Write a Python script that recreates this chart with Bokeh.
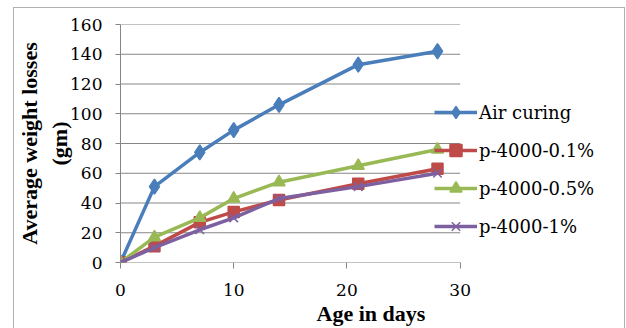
from bokeh.plotting import figure
from bokeh.models import Legend, LegendItem, Range1d, FixedTicker
from bokeh.embed import file_html
from bokeh.resources import INLINE

days = [0, 3, 7, 10, 14, 21, 28]
air_curing = [0, 51, 74, 89, 106, 133, 142]
p4000_01 = [0, 11, 27, 34, 42, 53, 63]
p4000_05 = [0, 17, 30, 43, 54, 65, 76]
p4000_1 = [0, 10, 22, 30, 43, 51, 60]
x_ticks = [0, 10, 20, 30]
y_ticks = [0, 20, 40, 60, 80, 100, 120, 140, 160]

SERIF = "DejaVu Serif"             # regular texts
SERIF_BOLD = "Liberation Serif"    # bold titles
GRID = "#868686"

# frame extends to the right so the legend (which overlaps the plot edge) is not clipped
X_END = 30 * (620 - 117) / (458 - 117)

p = figure(width=612, height=323, output_backend="svg", toolbar_location=None,
           x_range=Range1d(0, X_END), y_range=Range1d(0, 160),
           min_border_left=103, min_border_right=5, min_border_top=16, min_border_bottom=69)
p.styles = {"border": "1px solid #b0b0b0", "margin-left": "13px", "margin-top": "7px"}
p.outline_line_color = None
p.background_fill_color = "white"
p.border_fill_color = "white"

p.xgrid.grid_line_color = None
p.ygrid.grid_line_color = None
# horizontal gridlines only across the data span 0..30
p.segment(x0=[x_ticks[0]] * len(y_ticks), x1=[x_ticks[-1]] * len(y_ticks), y0=y_ticks, y1=y_ticks,
          line_color=GRID, line_width=1)

p.xaxis.ticker = FixedTicker(ticks=x_ticks)
p.yaxis.ticker = FixedTicker(ticks=y_ticks)
for ax in (p.xaxis[0], p.yaxis[0]):
    ax.major_label_text_font = SERIF
    ax.major_label_text_font_style = "normal"
    ax.major_label_text_font_size = "17px"
    ax.major_label_text_color = "black"
    ax.minor_tick_line_color = None
    ax.major_tick_line_color = GRID
    ax.major_tick_in = 0
    ax.axis_label_text_font = SERIF_BOLD
    ax.axis_label_text_font_style = "bold"
    ax.axis_label_text_font_size = "22px"
    ax.axis_label_text_color = "black"

p.xaxis.axis_line_color = None
p.xaxis.major_tick_out = 6
p.xaxis.major_label_standoff = 15
p.xaxis.axis_label = "Age in days"
p.xaxis.axis_label_standoff = 2

p.yaxis.axis_line_color = GRID
p.yaxis.major_tick_out = 5
p.yaxis.major_label_standoff = 13
p.yaxis.axis_label = "Average weight losses\n(gm)"
p.yaxis.axis_label_standoff = -5

series = [
    ("Air curing", air_curing, "#4a7ebb", "diamond", 15),
    ("p-4000-0.1%", p4000_01, "#be4b48", "square", 11),
    ("p-4000-0.5%", p4000_05, "#98b954", "triangle", 12),
    ("p-4000-1%", p4000_1, "#7d60a0", "x", 12),
]
items = []
for name, vals, col, mk, sz in series:
    ln = p.line(days, vals, line_color=col, line_width=3.5)
    sc = p.scatter(days, vals, marker=mk, size=sz, fill_color=col, line_color=col, line_width=1.5)
    items.append(LegendItem(label=name, renderers=[ln, sc]))

legend = Legend(items=items, location=(314, 21))
legend.label_text_font = SERIF
legend.label_text_font_style = "normal"
legend.label_text_font_size = "18px"
legend.label_text_color = "black"
legend.label_height = 22
legend.glyph_width = 43
legend.glyph_height = 30
legend.spacing = 8
legend.label_standoff = 2
legend.padding = 4
legend.margin = 0
legend.background_fill_alpha = 0
legend.border_line_color = None
p.add_layout(legend, "center")

open("out.html", "w").write(file_html(p, INLINE))
